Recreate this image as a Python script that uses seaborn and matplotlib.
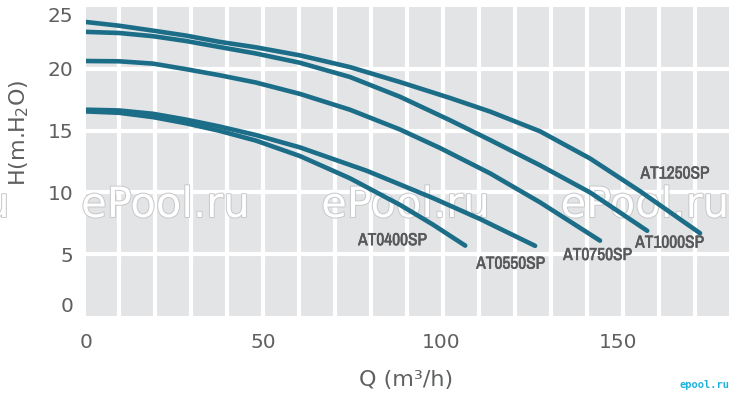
import numpy as np
import pandas as pd
import seaborn as sns
import matplotlib.pyplot as plt
from matplotlib import patheffects, font_manager

# pump curves: flow Q (m3/h) and head H (m)
q_0400 = [0, 9.3, 18.9, 28.2, 37.5, 47.9, 60.3, 74.4, 88.5, 97.8, 106.9]
h_0400 = [16.56, 16.45, 16.1, 15.6, 15.0, 14.2, 12.95, 11.15, 9.0, 7.4, 5.7]

q_0550 = [0, 9.3, 18.9, 28.2, 37.5, 47.9, 60.3, 79.2, 97.8, 111.1, 126.6]
h_0550 = [16.7, 16.64, 16.37, 15.9, 15.35, 14.65, 13.65, 11.75, 9.55, 7.85, 5.68]

q_0750 = [0, 9.3, 18.9, 28.2, 37.5, 47.9, 60.3, 74.4, 88.5, 99.8, 113.9, 128.0, 144.9]
h_0750 = [20.64, 20.62, 20.43, 19.98, 19.5, 18.9, 17.98, 16.7, 15.1, 13.6, 11.55, 9.2, 6.1]

q_1000 = [0, 9.3, 18.9, 28.2, 37.5, 47.9, 60.3, 74.4, 88.5, 102.6, 113.9, 128.0, 142.1, 158.2]
h_1000 = [23.0, 22.91, 22.65, 22.26, 21.78, 21.25, 20.5, 19.35, 17.75, 15.85, 14.25, 12.2, 10.0, 6.9]

q_1250 = [0, 9.3, 18.9, 28.2, 37.5, 47.9, 60.3, 74.4, 88.5, 102.6, 113.9, 128.0, 142.1, 156.2, 173.1]
h_1250 = [23.8, 23.5, 23.1, 22.7, 22.2, 21.75, 21.1, 20.15, 18.94, 17.65, 16.55, 14.95, 12.75, 10.1, 6.7]

models = ['AT0400SP', 'AT0550SP', 'AT0750SP', 'AT1000SP', 'AT1250SP']
curves = {
    'AT0400SP': (q_0400, h_0400),
    'AT0550SP': (q_0550, h_0550),
    'AT0750SP': (q_0750, h_0750),
    'AT1000SP': (q_1000, h_1000),
    'AT1250SP': (q_1250, h_1250),
}

rows = []
for m in models:
    for q, h in zip(*curves[m]):
        rows.append({'model': m, 'Q': q, 'H': h})
df = pd.DataFrame(rows)

# where the model names sit (layout only)
label_pos = {
    'AT0400SP': (86.5, 6.1),
    'AT0550SP': (119.8, 4.2),
    'AT0750SP': (144.3, 4.9),
    'AT1000SP': (164.6, 5.9),
    'AT1250SP': (166.1, 11.5),
}

# look for a narrow font for the model names
fonts = font_manager.fontManager.ttflist
names = {f.name for f in fonts}
lab_font = dict(family='Liberation Sans', fontsize=10.5, fontweight='bold')
if 'Liberation Sans Narrow' in names:
    lab_font = dict(family='Liberation Sans Narrow', fontsize=12, fontweight='bold')
else:
    cond = [f for f in fonts if 'Condensed' in f.name or 'Narrow' in f.name]
    if cond:
        lab_font = dict(family=cond[0].name, fontsize=12.5, fontweight='bold')
    else:
        cond = [f for f in fonts if f.stretch in ('condensed', 'semi-condensed')]
        if cond:
            lab_font = dict(family=cond[0].name, fontsize=12.5, fontweight='bold',
                            fontstretch=cond[0].stretch)

sns.set_style('white')
plt.rcParams['font.family'] = ['DejaVu Sans']

line_col = '#1b6d88'
text_col = '#5f6062'
lab_col = '#58595b'

fig = plt.figure(figsize=(7.41, 3.98), dpi=100)
ax = fig.add_axes([0.116, 0.206, 0.868, 0.776])
ax.set_facecolor('#e3e4e6')

xmax = 181.3
ax.set_xlim(0, xmax)
ax.set_ylim(0, 25)

# white cell separators
for x in 9.44 + 10.14 * np.arange(17):
    ax.axvline(x, color='white', lw=3, zorder=1)
for y in [5, 10, 15, 20]:
    ax.axhline(y, color='white', lw=3, zorder=1)

# watermarks
for xf in [-0.101, 0.223, 0.547, 0.870]:
    ax.text(xf, 0.485, 'ePool.ru', transform=fig.transFigure, fontsize=30,
            color='white', ha='center', va='center', zorder=1.5, clip_on=False,
            path_effects=[patheffects.withStroke(linewidth=1.5, foreground='#c9cacc')])

sns.lineplot(data=df, x='Q', y='H', hue='model', palette={m: line_col for m in models},
             sort=False, estimator=None, legend=False, lw=3.3, ax=ax, zorder=3,
             solid_capstyle='round')

for m in models:
    x, y = label_pos[m]
    ax.text(x, y, m, ha='center', va='center', color=lab_col, zorder=4,
            path_effects=[patheffects.withStroke(linewidth=0.4, foreground=lab_col)],
            **lab_font)

for s in ax.spines.values():
    s.set_visible(False)

ax.set_xticks([0, 50, 100, 150])
ax.set_yticks([0, 5, 10, 15, 20, 25])
ax.tick_params(axis='x', length=0, pad=12, labelsize=14.5, labelcolor=text_col)
ax.tick_params(axis='y', length=0, pad=9, labelsize=14.5, labelcolor=text_col)
ylabels = ax.get_yticklabels()
ylabels[0].set_va('bottom')
ylabels[-1].set_va('top')

ax.set_xlabel('')
ax.set_ylabel('')
fig.text(0.548, 0.045, 'Q (m³/h)', ha='center', va='center', fontsize=16, color=text_col)
fig.text(0.026, 0.668, 'H(m.H$_2$O)', ha='center', va='center', rotation=90,
         fontsize=16, color=text_col)

fig.text(0.951, 0.033, 'epool.ru', ha='center', va='center', fontsize=7.5,
         color='#1fb3dc', family='DejaVu Sans Mono', fontweight='bold')

fig.savefig('out.png', dpi=100)
